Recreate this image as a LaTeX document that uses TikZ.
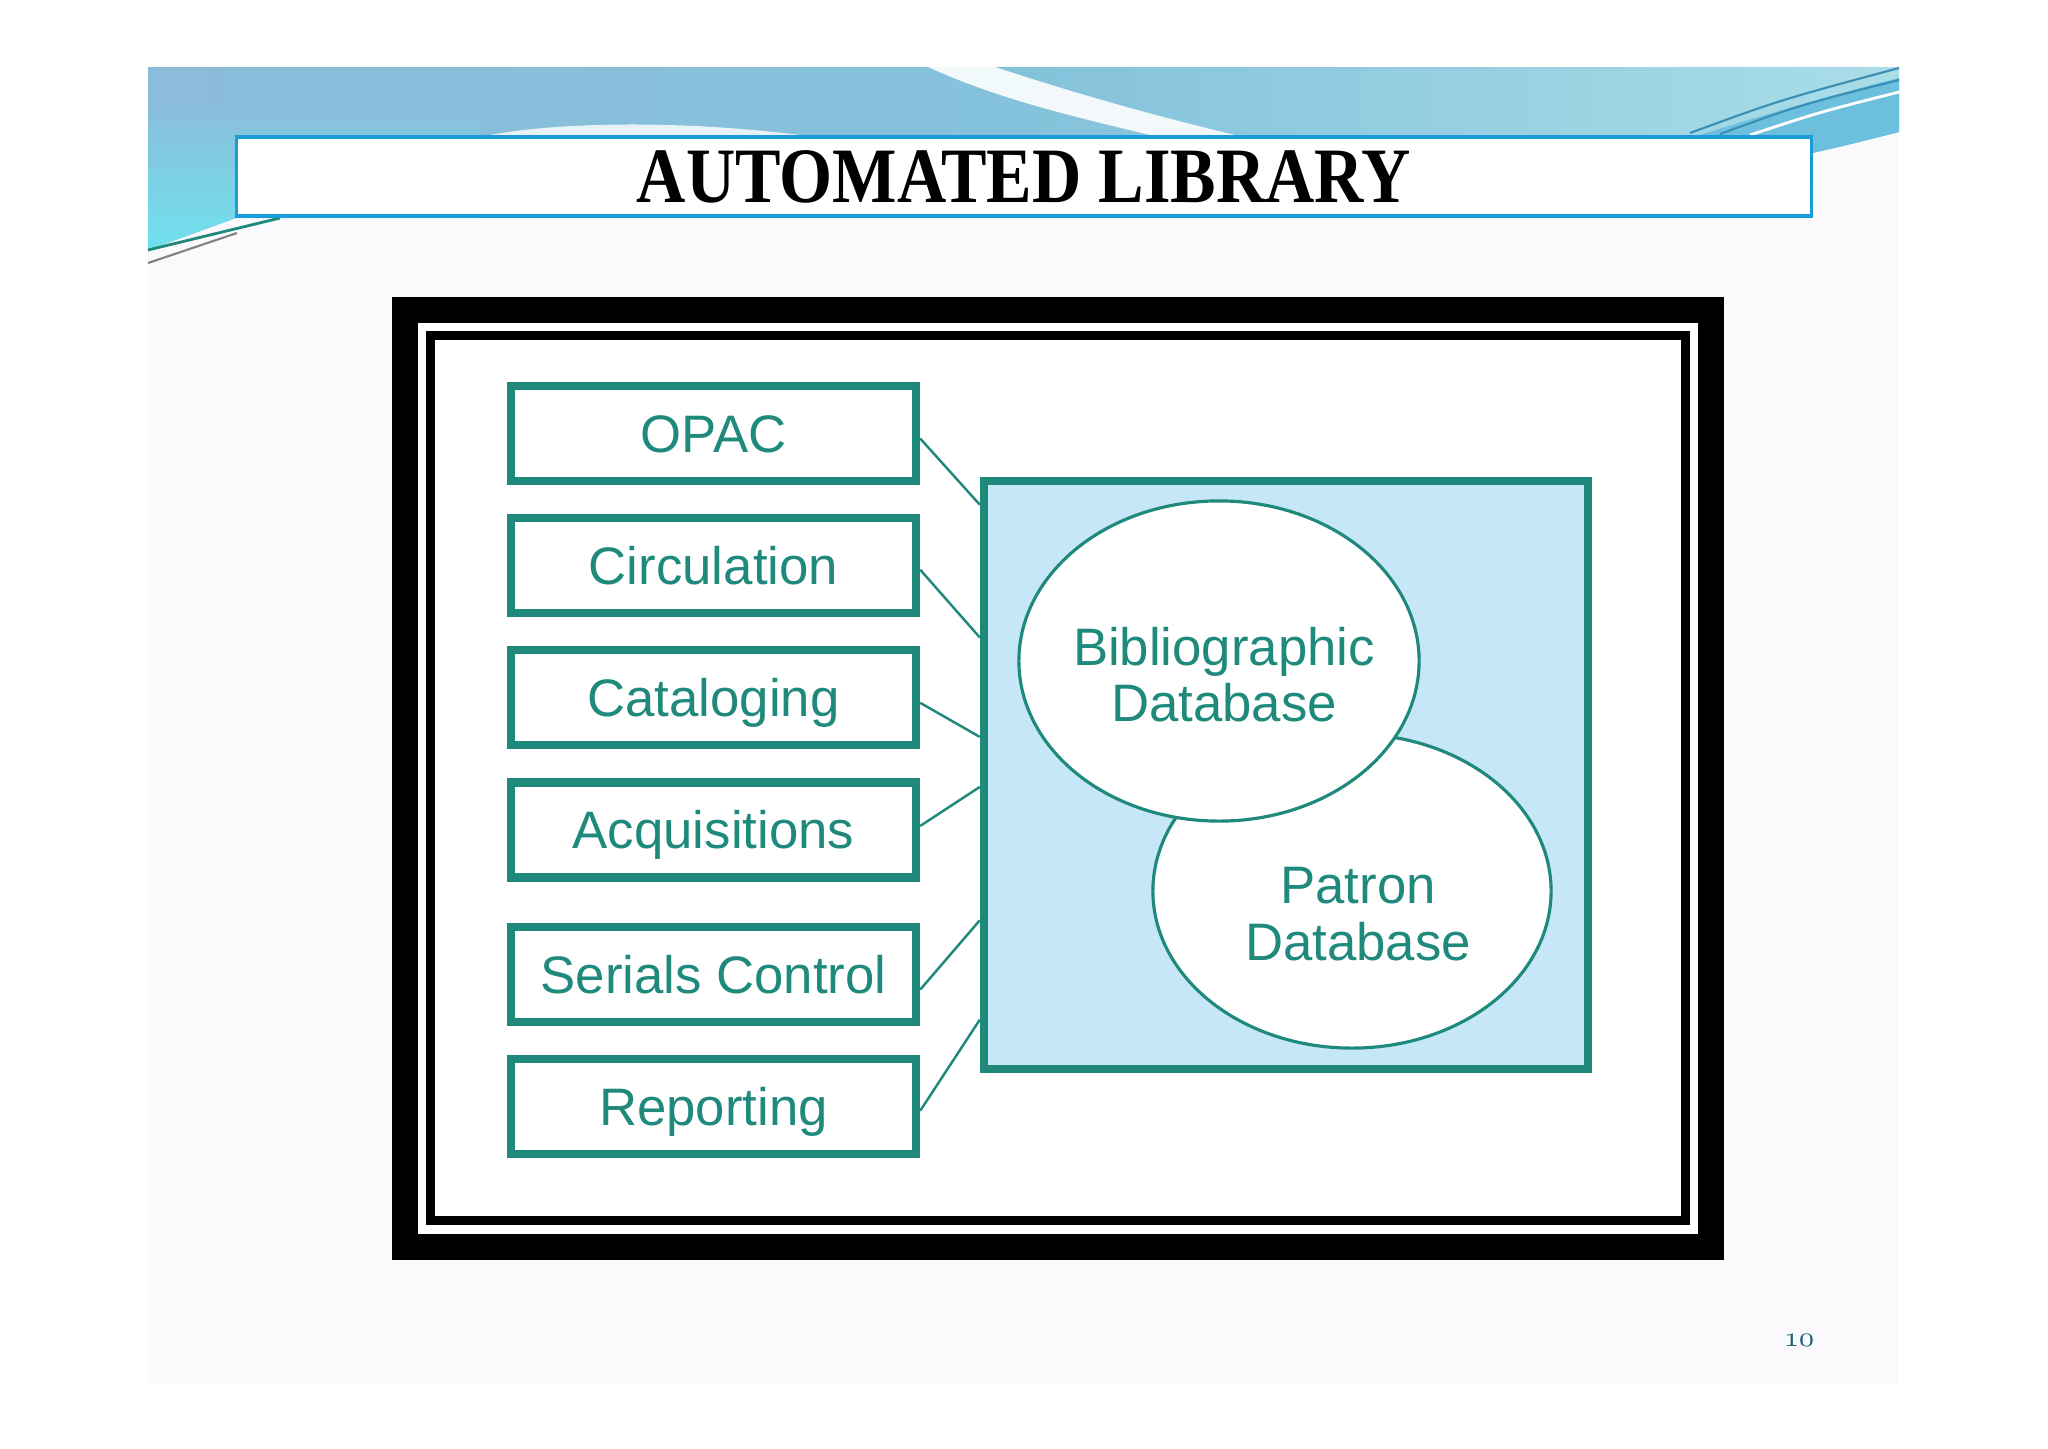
\documentclass[tikz,border=0pt]{standalone}
\usepackage{fontspec}
\setmainfont{Liberation Serif}
\setsansfont{Liberation Sans}
\usepackage{xcolor}
\usetikzlibrary{positioning, shapes.geometric, calc}

\definecolor{libteal}{HTML}{1F8A7C}
\definecolor{dbblue}{HTML}{C5E7F8}
\definecolor{titleblue}{HTML}{1B9BD7}
\definecolor{slidegray}{HTML}{FAFAFC}
\definecolor{bandtop}{HTML}{8BBCD9}
\definecolor{bandmid}{HTML}{84C2DB}
\definecolor{bandcyan}{HTML}{6FE2EE}
\definecolor{bandright}{HTML}{A9DDE8}
\definecolor{bandedge}{HTML}{6CC0DD}
\definecolor{bandline}{HTML}{3A8FB5}
\definecolor{pagenum}{HTML}{1D5E7A}

\begin{document}
\begin{tikzpicture}[
  x=0.01cm, y=-0.01cm,
  node distance=0.29cm,
  module/.style={draw=libteal, line width=2.3pt, fill=white, minimum width=4.05cm,
    minimum height=0.95cm, inner sep=0pt, text height=10.8pt, text depth=0pt,
    font=\sffamily\fontsize{15}{16}\selectfont, text=libteal},
  dbell/.style={ellipse, draw=libteal, line width=0.9pt, fill=white, inner sep=0pt},
  dbtext/.style={align=center, inner sep=0pt, font=\sffamily\fontsize{15}{16}\selectfont, text=libteal},
  link/.style={libteal, line width=0.7pt},
]
\useasboundingbox (0,0) rectangle (2048,1448);
\fill[white] (0,0) rectangle (2048,1448);
\fill[slidegray] (148,67) rectangle (1899,1384);

% slide banner
\shade[left color=bandtop, right color=bandright, middle color=bandmid]
  (148,67) -- (1899,67) -- (1899,132) .. controls (1860,142) .. (1813,153)
  -- (1813,190) -- (236,190) -- (236,218) -- (148,250) -- cycle;
\shade[top color=bandtop, bottom color=bandcyan]
  (148,100) -- (480,100) -- (480,218) -- (236,218) -- (148,250) -- cycle;
\fill[white, opacity=0.9] (928,67) .. controls (1000,100) and (1080,118) .. (1150,135)
  -- (1235,135) .. controls (1130,110) and (1050,85) .. (995,67) -- cycle;
\fill[white, opacity=0.8] (490,135) .. controls (560,122) and (680,120) .. (800,135) -- cycle;
\fill[bandedge] (1700,135) .. controls (1780,110) and (1850,90) .. (1899,78)
  -- (1899,132) .. controls (1860,142) .. (1813,153) -- (1813,135) -- cycle;
\draw[bandline, line width=0.6pt] (1690,133) .. controls (1780,100) .. (1899,68);
\draw[bandline, line width=0.6pt] (1720,134) .. controls (1800,105) .. (1899,80);
\draw[white, line width=0.8pt] (1750,135) .. controls (1820,112) .. (1899,92);
\draw[libteal, line width=0.8pt] (148,250) -- (280,218);
\draw[gray, line width=0.6pt] (148,263) -- (237,233);

\node[draw=titleblue, line width=1.1pt, fill=white, minimum width=15.74cm, minimum height=0.79cm, inner sep=0pt]
  (title) at (1024,176.5) {\fontsize{22.3}{24}\selectfont\bfseries\scalebox{0.87}[1]{AUTOMATED LIBRARY}};

% picture frame
\fill[black] (392,297) rectangle (1724,1260);
\fill[white] (418,323) rectangle (1698,1234);
\fill[black] (426,331) rectangle (1690,1225);
\fill[white] (435,340) rectangle (1681,1216);

\node[module] (opac) at (713.5,433.5) {OPAC};
\node[module, below=of opac] (circ) {Circulation};
\node[module, below=of circ] (catal) {Cataloging};
\node[module, below=of catal] (acq) {Acquisitions};
\node[module, below=0.41cm of acq] (serials) {Serials Control};
\node[module, below=of serials] (report) {Reporting};

\node[draw=libteal, line width=2.3pt, fill=dbblue, minimum width=6.04cm, minimum height=5.87cm] (db) at (1286,775) {};
\node[dbell, minimum width=3.98cm, minimum height=3.14cm] (patron) at (1352,891) {};
\node[dbell, minimum width=4.0cm, minimum height=3.2cm] (bib) at (1219,661) {};
\node[dbtext] (bibtext) at ($(bib.center)+(5,14)$) {Bibliographic\\Database};
\node[dbtext] (patrontext) at ($(patron.center)+(6,23)$) {Patron\\Database};

\draw[link] ([yshift=-0.05cm]opac.east) -- ($(db.north west)!0.046!(db.south west)$);
\draw[link] ([yshift=-0.04cm]circ.east) -- ($(db.north west)!0.269!(db.south west)$);
\draw[link] ([yshift=-0.05cm]catal.east) -- ($(db.north west)!0.436!(db.south west)$);
\draw[link] ([yshift=0.04cm]acq.east) -- ($(db.north west)!0.520!(db.south west)$);
\draw[link] ([yshift=-0.155cm]serials.east) -- ($(db.north west)!0.744!(db.south west)$);
\draw[link] ([yshift=-0.045cm]report.east) -- ($(db.north west)!0.911!(db.south west)$);

\node[text=pagenum] (pagenum) at (1799,1340)
  {\fontencoding{OML}\fontfamily{cmm}\fontseries{m}\fontshape{it}\fontsize{8.5}{9}\selectfont 10};
\end{tikzpicture}
\end{document}
